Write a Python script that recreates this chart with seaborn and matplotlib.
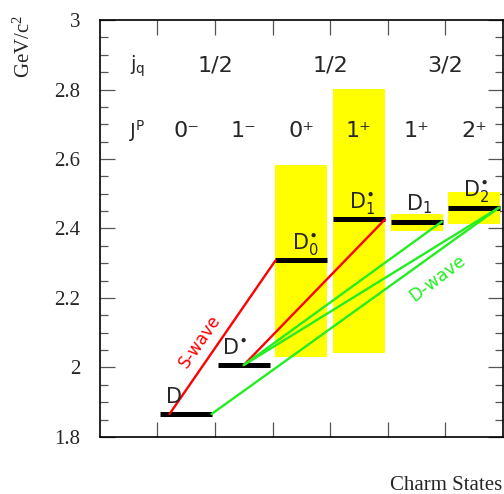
import numpy as np
import pandas as pd
import matplotlib
matplotlib.use("Agg")
import matplotlib.pyplot as plt
import seaborn as sns
from matplotlib.ticker import MultipleLocator, FixedLocator, FuncFormatter

# ---------------- data ----------------
states = ["D", "D*", "D0*", "D1*", "D1", "D2*"]
state_labels = [r"$\mathregular{D}$", r"$\mathregular{D^{\bullet}}$",
                r"$\mathregular{D_0^{\bullet}}$", r"$\mathregular{D_1^{\bullet}}$",
                r"$\mathregular{D_1}$", r"$\mathregular{D_2^{\bullet}}$"]
masses = [1.866, 2.007, 2.308, 2.426, 2.420, 2.460]          # GeV/c^2
width_low = [np.nan, np.nan, 2.030, 2.041, 2.394, 2.414]
width_high = [np.nan, np.nan, 2.584, 2.802, 2.443, 2.506]
jp_labels = ["0\u207b", "1\u207b", "0\u207a", "1\u207a", "1\u207a", "2\u207a"]
jq_labels = ["1/2", "1/2", "3/2"]
s_wave = [("D", "D0*"), ("D*", "D1*")]
d_wave = [("D", "D2*"), ("D*", "D1"), ("D*", "D2*")]

# ---------------- layout helpers ----------------
slot = {s: i + 1 for i, s in enumerate(states)}
mass = dict(zip(states, masses))
bar_lo, bar_hi = 0.05, 0.95
# where on a level bar a transition line is attached (fraction of slot)
start_anchor = {("D", "D0*"): 0.21, ("D*", "D1*"): 0.5,
                ("D", "D2*"): 0.94, ("D*", "D1"): 0.5, ("D*", "D2*"): 0.5}
end_anchor = {("D", "D0*"): 0.05, ("D*", "D1*"): 0.95,
              ("D", "D2*"): 0.93, ("D*", "D1"): 0.94, ("D*", "D2*"): 0.93}
label_x = [0.13, 0.12, 0.33, 0.33, 0.32, 0.30]

sns.set_theme(style="white")
plt.rcParams["font.family"] = ["DejaVu Sans"]
plt.rcParams["mathtext.default"] = "regular"

fig = plt.figure(figsize=(5.04, 4.94), dpi=100)
ax = fig.add_axes([0.198, 0.1154, 0.80, 0.8441])
ax.set_xlim(0, 7)
ax.set_ylim(1.8, 3.0)

# widths (yellow boxes)
centers = [slot[s] + 0.5 for s in states]
heights = [h - l for h, l in zip(width_high, width_low)]
ax.bar(centers, heights, bottom=width_low, width=bar_hi - bar_lo,
       color="#ffff00", edgecolor="none", zorder=1)

# transitions
rows = []
for k, (a, b) in enumerate(s_wave + d_wave):
    wave = "S" if (a, b) in s_wave else "D"
    rows.append(dict(x=slot[a] + start_anchor[(a, b)], m=mass[a], id=k, wave=wave))
    rows.append(dict(x=slot[b] + end_anchor[(a, b)], m=mass[b], id=k, wave=wave))
df = pd.DataFrame(rows)
sns.lineplot(data=df, x="x", y="m", hue="wave", units="id", estimator=None,
             sort=False, palette={"S": "#ff0000", "D": "#22ee22"},
             linewidth=1.7, legend=False, ax=ax, zorder=4)

# levels
ax.hlines(masses, [slot[s] + bar_lo for s in states], [slot[s] + bar_hi for s in states],
          color="black", linewidth=3.6, zorder=3)

for s, lbl, dx in zip(states, state_labels, label_x):
    ax.text(slot[s] + dx, mass[s] + 0.033, lbl, fontsize=15, ha="left",
            va="baseline", zorder=5)

# header rows
ax.text(0.65, 2.868, r"$\mathregular{j_q}$", fontsize=14, ha="center", va="center")
ax.text(0.65, 2.681, r"$\mathregular{J^P}$", fontsize=14, ha="center", va="center")
for x, t in zip([2.0, 4.0, 6.0], jq_labels):
    ax.text(x, 2.868, t, fontsize=16, ha="center", va="center")
for s, t in zip(states, jp_labels):
    ax.text(slot[s] + 0.5, 2.681, t, fontsize=16, ha="center", va="center")

# wave labels, rotated along lines
fig.canvas.draw()
def disp_angle(x0, y0, x1, y1):
    p0 = ax.transData.transform((x0, y0)); p1 = ax.transData.transform((x1, y1))
    return np.degrees(np.arctan2(p1[1] - p0[1], p1[0] - p0[0]))
r = df[df.id == 0]
ang_s = disp_angle(r.x.iloc[0], r.m.iloc[0], r.x.iloc[1], r.m.iloc[1])
ax.text(1.73, 2.076, "S-wave", color="#ff0000", fontsize=12, rotation=ang_s,
        ha="center", va="center", rotation_mode="anchor")
ax.text(5.86, 2.257, "D-wave", color="#22ee22", fontsize=12.5, rotation=37,
        ha="center", va="center", rotation_mode="anchor")

# axes styling
for sp in ax.spines.values():
    sp.set_visible(True)
    sp.set_color("black")
    sp.set_linewidth(1.2)
ax.xaxis.set_major_locator(FixedLocator([1, 2, 3, 4, 5, 6]))
ax.yaxis.set_major_locator(MultipleLocator(0.2))
ax.yaxis.set_minor_locator(MultipleLocator(0.05))
ax.yaxis.set_major_formatter(FuncFormatter(lambda v, p: f"{v:g}"))
ax.tick_params(axis="x", which="major", direction="in", length=11, width=0.9,
               color="#555555", top=True, bottom=True, labelbottom=False)
ax.tick_params(axis="y", which="major", direction="in", length=11, width=0.9,
               color="#555555", left=True, right=True, pad=14, labelsize=15)
ax.tick_params(axis="y", which="minor", direction="in", length=5.5, width=0.9,
               color="#555555", left=True, right=True)
for t in ax.get_yticklabels():
    t.set_fontfamily("Liberation Serif")
ax.set_xlabel(""); ax.set_ylabel("")
ax.grid(False)

fig.text(0.048, 0.907, r"GeV/c$^2$", rotation=90, ha="center", va="center",
         fontsize=15, family="Liberation Serif")
fig.text(0.996, 0.018, "Charm States", ha="right", va="center",
         fontsize=15, family="Liberation Serif")

fig.savefig("out.png", dpi=100)
